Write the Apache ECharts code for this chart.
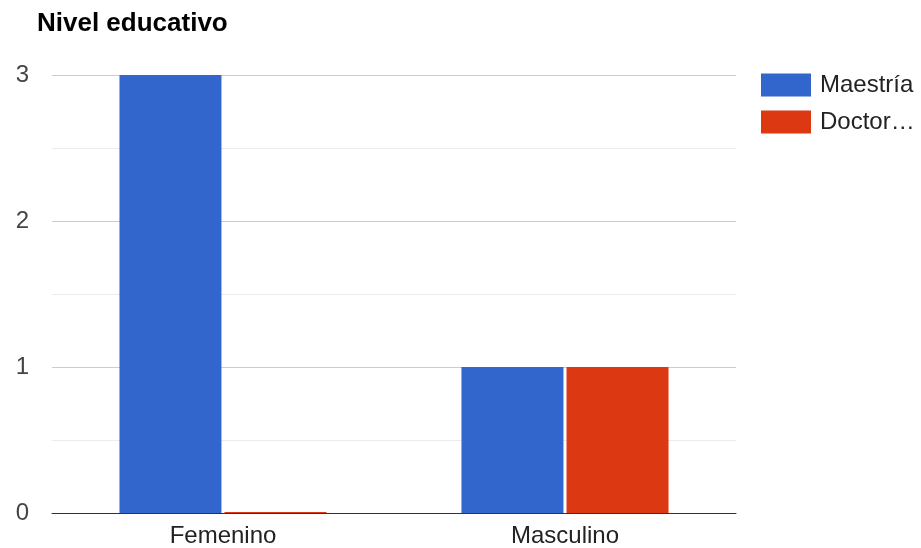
<!DOCTYPE html>
<html>
<head>
<meta charset="utf-8">
<script src="https://cdn.jsdelivr.net/npm/echarts@6/dist/echarts.min.js"></script>
<style>html,body{margin:0;padding:0;background:#fff}#c{width:921px;height:548px}</style>
</head>
<body>
<div id="c"></div>
<script>
const title = "Nivel educativo";
const categories = ["Femenino", "Masculino"];
const seriesNames = ["Maestría", "Doctorado"];
const maestria = [3, 1];
const doctorado = [0, 1];
const colors = ["#3366cc", "#dc3912"];

const chart = echarts.init(document.getElementById('c'));
const font = "'Liberation Sans', Arial, sans-serif";
chart.setOption({
  animation: false,
  title: {
    text: title, left: 32, top: 6,
    textStyle: {fontFamily: font, fontSize: 26, fontWeight: 'bold', color: '#000'}
  },
  legend: {
    orient: 'vertical', left: 756, top: 68,
    itemWidth: 50, itemHeight: 23, itemGap: 13,
    icon: 'rect',
    textStyle: {fontFamily: font, fontSize: 24, color: '#222', width: 104, overflow: 'truncate', ellipsis: '…', padding: [0,0,0,4]},
    data: seriesNames
  },
  grid: {left: 52, right: 185, top: 75, bottom: 35, containLabel: false},
  xAxis: {
    type: 'category', data: categories,
    axisLine: {lineStyle: {color: '#333', width: 1}},
    axisTick: {show: false},
    axisLabel: {fontFamily: font, fontSize: 24, color: '#222', margin: 11}
  },
  yAxis: {
    type: 'value', min: 0, max: 3, interval: 1,
    axisLine: {show: false}, axisTick: {show: false},
    axisLabel: {fontFamily: font, fontSize: 24, color: '#444', margin: 23},
    splitLine: {lineStyle: {color: '#cccccc'}},
    minorTick: {show: false, splitNumber: 2},
    minorSplitLine: {show: true, lineStyle: {color: '#ebebeb'}}
  },
  series: [
    {name: seriesNames[0], type: 'bar', data: maestria, barWidth: 102, barGap: '3%', itemStyle: {color: colors[0]}},
    {name: seriesNames[1], type: 'bar', data: doctorado, barWidth: 102, barMinHeight: 1, itemStyle: {color: colors[1]}}
  ]
});
</script>
</body>
</html>
